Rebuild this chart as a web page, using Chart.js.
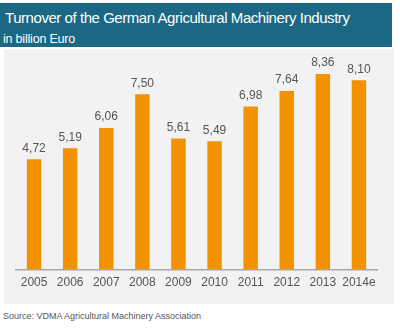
<!DOCTYPE html>
<html>
<head>
<meta charset="utf-8">
<script src="https://cdn.jsdelivr.net/npm/chart.js@4/dist/chart.umd.min.js"></script>
<style>
  html, body { margin: 0; padding: 0; background: #ffffff; width: 400px; height: 332px; overflow: hidden; }
  body { position: relative; font-family: "Liberation Sans", Arial, sans-serif; }
  #header { position: absolute; left: 0; top: 3px; width: 392px; height: 44px; background: #1a6883; color: #ffffff; }
  #title { position: absolute; left: 5px; top: 6px; font-size: 15px; letter-spacing: -0.45px; white-space: nowrap; }
  #subtitle { position: absolute; left: 3px; top: 29px; font-size: 12.5px; letter-spacing: -0.2px; white-space: nowrap; }
  #panel { position: absolute; left: 4px; top: 49px; width: 390px; height: 255px; background: #f2f2f2; }
  #source { position: absolute; left: 3px; top: 311px; font-size: 9px; color: #555555; white-space: nowrap; }
</style>
</head>
<body>
<div id="header">
  <div id="title">Turnover of the German Agricultural Machinery Industry</div>
  <div id="subtitle">in billion Euro</div>
</div>
<div id="panel"><canvas id="c" width="390" height="255"></canvas></div>
<div id="source">Source: VDMA Agricultural Machinery Association</div>
<script>
const categories = ["2005", "2006", "2007", "2008", "2009", "2010", "2011", "2012", "2013", "2014e"];
const turnover = [4.72, 5.19, 6.06, 7.50, 5.61, 5.49, 6.98, 7.64, 8.36, 8.10];
const valueLabels = ["4,72", "5,19", "6,06", "7,50", "5,61", "5,49", "6,98", "7,64", "8,36", "8,10"];

const valueLabelPlugin = {
  id: "valueLabels",
  afterDatasetsDraw(chart) {
    const ctx = chart.ctx;
    const meta = chart.getDatasetMeta(0);
    ctx.save();
    ctx.font = "12px 'Liberation Sans', Arial, sans-serif";
    ctx.fillStyle = "#555555";
    ctx.textAlign = "center";
    ctx.textBaseline = "bottom";
    meta.data.forEach((bar, i) => {
      ctx.fillText(valueLabels[i], bar.x, bar.y - 5);
    });
    ctx.restore();
  }
};

new Chart(document.getElementById("c"), {
  type: "bar",
  data: {
    labels: categories,
    datasets: [{
      data: turnover,
      backgroundColor: "#f39200",
      borderWidth: 0,
      categoryPercentage: 1.0,
      barPercentage: 0.4
    }]
  },
  options: {
    responsive: false,
    animation: false,
    devicePixelRatio: 1,
    layout: { padding: { left: 12, right: 17, top: 16, bottom: 8 } },
    plugins: { legend: { display: false }, tooltip: { enabled: false } },
    scales: {
      y: { display: false, min: 0, max: 8.75 },
      x: {
        grid: { display: false, drawTicks: false },
        border: { display: true, color: "#a8a8a8", width: 1.5 },
        ticks: { color: "#555555", autoSkip: false, font: { size: 12, family: "'Liberation Sans', Arial, sans-serif" }, padding: 6, maxRotation: 0 }
      }
    }
  },
  plugins: [valueLabelPlugin]
});
</script>
</body>
</html>
